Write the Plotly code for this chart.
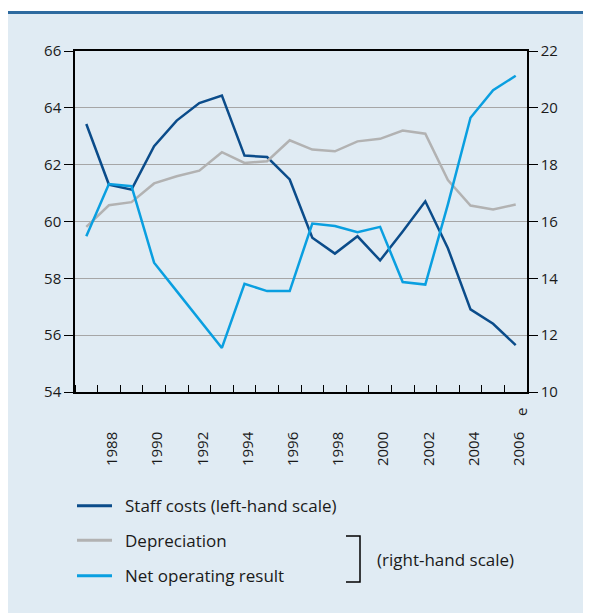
import plotly.graph_objects as go

years = list(range(1987, 2007))
staff_costs = [63.43, 61.30, 61.12, 62.65, 63.55, 64.17, 64.43, 62.32, 62.27, 61.48,
               59.43, 58.87, 59.48, 58.63, 59.65, 60.71, 59.06, 56.91, 56.40, 55.65]
depreciation = [15.81, 16.57, 16.68, 17.34, 17.59, 17.79, 18.44, 18.06, 18.12, 18.86,
                18.53, 18.47, 18.82, 18.91, 19.20, 19.09, 17.46, 16.56, 16.42, 16.60]
net_operating = [15.48, 17.32, 17.24, 14.55, 13.55, 12.55, 11.55, 13.81, 13.55, 13.55,
                 15.93, 15.84, 15.62, 15.81, 13.87, 13.78, 16.60, 19.65, 20.62, 21.13]
x_tick_years = [1988, 1990, 1992, 1994, 1996, 1998, 2000, 2002, 2004, 2006]
x_tick_labels = [str(y) for y in x_tick_years]
left_ticks = [54, 56, 58, 60, 62, 64, 66]
right_ticks = [10, 12, 14, 16, 18, 20, 22]
legend_names = ["Staff costs (left-hand scale)", "Depreciation", "Net operating result"]

C_STAFF = "#0b4c8a"
C_DEP = "#b2b2b2"
C_NET = "#0a9fe0"
BG = "#e0ebf3"
FONT = "Open Sans"
TXT = "#1a1a1a"

# page offset (default body margin of the html page)
OFF = 8
W, H = 591 - OFF, 613 - OFF
ML, MT = 75 - OFF, 51 - OFF
PW, PH = 452, 341
MR = W - ML - PW
MB = H - MT - PH

def px(x):
    return (x - OFF - ML) / PW

def py(y):
    return (MT + PH - (y - OFF)) / PH

fig = go.Figure()
fig.add_trace(go.Scatter(x=years, y=depreciation, mode="lines", yaxis="y2",
                         line=dict(color=C_DEP, width=2.5), showlegend=False))
fig.add_trace(go.Scatter(x=years, y=staff_costs, mode="lines", yaxis="y",
                         line=dict(color=C_STAFF, width=2.5), showlegend=False))
fig.add_trace(go.Scatter(x=years, y=net_operating, mode="lines", yaxis="y2",
                         line=dict(color=C_NET, width=2.5), showlegend=False))

fig.update_layout(
    width=W, height=H,
    margin=dict(l=ML, r=MR, t=MT, b=MB, pad=0),
    paper_bgcolor="white",
    plot_bgcolor="white",
    font=dict(family=FONT, size=15, color=TXT),
    xaxis=dict(
        range=[1986.5, 2006.5],
        tickvals=[y + 0.15 for y in x_tick_years], ticktext=x_tick_labels,
        tickangle=-90, ticks="", showgrid=False, zeroline=False,
        showline=True, linecolor="black", linewidth=1.5, mirror=True,
        ticklabelstandoff=32,
        minor=dict(tickvals=[1986.5 + i for i in range(21)], ticks="inside",
                   ticklen=7, tickcolor="black", tickwidth=1.2, showgrid=False),
        tickfont=dict(family=FONT, size=15, color=TXT),
    ),
    yaxis=dict(
        range=[54, 66], tickvals=left_ticks, ticks="outside", ticklen=9,
        tickcolor="black", tickwidth=1.2,
        showline=True, linecolor="black", linewidth=1.5,
        showgrid=True, gridcolor="#a6a6a6", gridwidth=1, zeroline=False,
        tickfont=dict(family=FONT, size=15, color=TXT),
    ),
    yaxis2=dict(
        range=[10, 22], tickvals=right_ticks, overlaying="y", side="right",
        ticks="outside", ticklen=9, tickcolor="black", tickwidth=1.2,
        showline=True, linecolor="black", linewidth=1.5,
        showgrid=False, zeroline=False,
        tickfont=dict(family=FONT, size=15, color=TXT),
    ),
)

shapes = []
shapes.append(dict(type="rect", xref="paper", yref="paper",
                   x0=px(6), x1=px(600), y0=py(620), y1=py(14),
                   fillcolor=BG, line=dict(width=0), layer="below"))
shapes.append(dict(type="line", xref="paper", yref="paper",
                   x0=px(6), x1=px(600), y0=py(12.5), y1=py(12.5),
                   line=dict(color="#2d6a9f", width=3)))
for yy, col in zip([505.7, 540.3, 575.7], [C_STAFF, C_DEP, C_NET]):
    shapes.append(dict(type="line", xref="paper", yref="paper",
                       x0=px(77), x1=px(112), y0=py(yy), y1=py(yy),
                       line=dict(color=col, width=3)))
shapes.append(dict(type="path", xref="paper", yref="paper",
                   path=f"M {px(346)} {py(536)} L {px(360)} {py(536)} L {px(360)} {py(582)} L {px(346)} {py(582)}",
                   line=dict(color="black", width=1.5)))
fig.update_layout(shapes=shapes)

annotations = []
for yy, name in zip([505.7, 540.3, 575.7], legend_names):
    annotations.append(dict(xref="paper", yref="paper", x=px(123), y=py(yy),
                            text=name, showarrow=False, xanchor="left", yanchor="middle",
                            font=dict(family=FONT, size=17, color=TXT)))
annotations.append(dict(xref="paper", yref="paper", x=px(375), y=py(559),
                        text="(right-hand scale)", showarrow=False, xanchor="left",
                        yanchor="middle", font=dict(family=FONT, size=17, color=TXT)))
annotations.append(dict(xref="paper", yref="paper", x=px(521), y=py(412),
                        text="e", showarrow=False, textangle=-90,
                        xanchor="center", yanchor="middle",
                        font=dict(family=FONT, size=15, color=TXT)))
fig.update_layout(annotations=annotations)

fig.write_html("out.html", config={"displayModeBar": False})
